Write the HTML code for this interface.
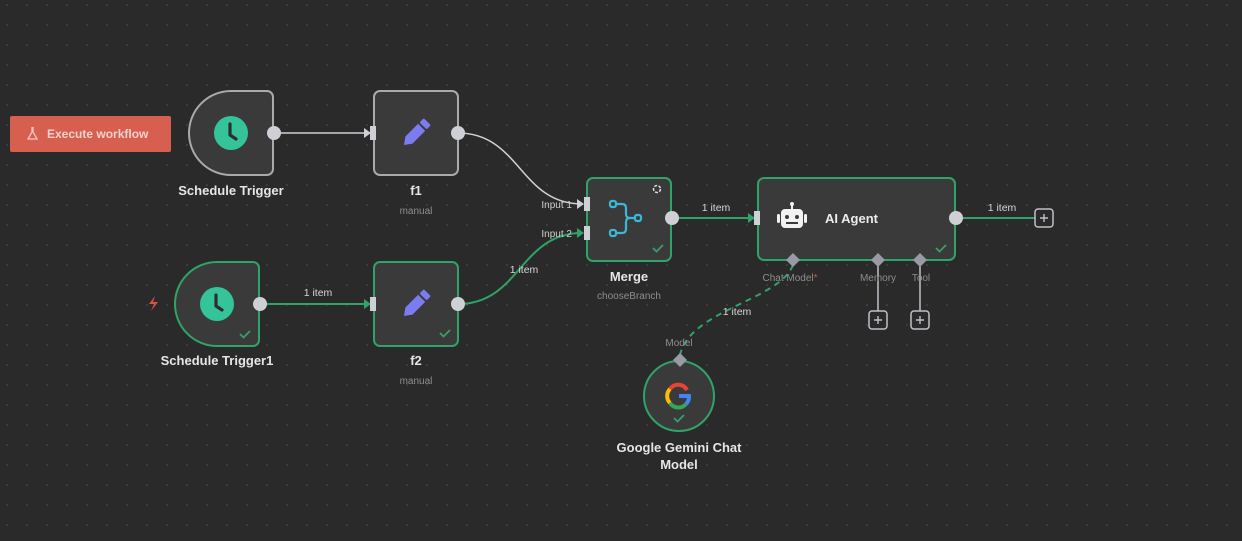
<!DOCTYPE html>
<html><head><meta charset="utf-8"><style>
html,body{margin:0;padding:0;background:#2a2a2a;}
svg{display:block;font-family:"Liberation Sans",sans-serif;}
</style></head><body>
<svg width="1242" height="541" viewBox="0 0 1242 541" xmlns="http://www.w3.org/2000/svg">
<defs>
<pattern id="dots" width="20" height="20" patternUnits="userSpaceOnUse" x="6" y="4">
<circle cx="1" cy="1" r="0.9" fill="#4a4a4a"/>
</pattern>
<g id="check"><path d="M-5 0 L-1.5 3.5 L5 -3" fill="none" stroke="#35a06a" stroke-width="1.8"/></g>
<g id="pencil"><g transform="rotate(45)"><rect x="-5" y="-16" width="10" height="6" rx="1.5" fill="#7b7cf0"/><path d="M-5 -8 H5 V10 L0 17 L-5 10 Z" fill="#7b7cf0"/></g></g>
<g id="clock"><circle r="17" fill="#35c49a"/><path d="M-1 -9 V2 L5 6" fill="none" stroke="#2e2e2e" stroke-width="3.2" stroke-linecap="round" stroke-linejoin="round"/></g>
<g id="plus"><rect x="-9" y="-9" width="18" height="18" rx="3" fill="#2a2a2a" stroke="#bfbfc8" stroke-width="1.5"/><path d="M-4 0 H4 M0 -4 V4" stroke="#bfbfc8" stroke-width="1.4"/></g>
</defs>
<rect width="1242" height="541" fill="#2a2a2a"/>
<rect width="1242" height="541" fill="url(#dots)"/>

<!-- Execute button -->
<rect x="10" y="116" width="161" height="36" rx="2" fill="#d65f4f"/>
<path d="M32 127 v5 l-4 7 h9 l-4 -7 v-5" fill="none" stroke="#f1c6bf" stroke-width="1.3"/>
<text x="47" y="138" font-size="12" font-weight="bold" fill="#f3d2cc">Execute workflow</text>

<!-- edges -->
<line x1="274" y1="133" x2="368" y2="133" stroke="#cfcfd6" stroke-width="1.5"/>
<path d="M364 128 L371 133 L364 138 Z" fill="#cfcfd6"/>
<path d="M458 133 C520 133 520 204 582 204" fill="none" stroke="#cfcfd6" stroke-width="1.5"/>
<path d="M577 199 L584 204 L577 209 Z" fill="#cfcfd6"/>
<line x1="260" y1="304" x2="368" y2="304" stroke="#2fa36a" stroke-width="2"/>
<path d="M364 299 L371 304 L364 309 Z" fill="#2fa36a"/>
<text x="318" y="296" font-size="10.5" fill="#d6d6d6" text-anchor="middle">1 item</text>
<path d="M458 304 C520 304 520 233 582 233" fill="none" stroke="#2fa36a" stroke-width="2"/>
<path d="M577 228 L584 233 L577 238 Z" fill="#2fa36a"/>
<text x="524" y="273" font-size="10.5" fill="#d6d6d6" text-anchor="middle">1 item</text>
<line x1="672" y1="218" x2="752" y2="218" stroke="#2fa36a" stroke-width="2"/>
<path d="M748 213 L755 218 L748 223 Z" fill="#2fa36a"/>
<text x="716" y="211" font-size="10.5" fill="#d6d6d6" text-anchor="middle">1 item</text>
<line x1="956" y1="218" x2="1035" y2="218" stroke="#2fa36a" stroke-width="2"/>
<text x="1002" y="211" font-size="10.5" fill="#d6d6d6" text-anchor="middle">1 item</text>
<use href="#plus" x="1044" y="218"/>
<path d="M793 265 C780 300 690 310 680 355" fill="none" stroke="#2fa36a" stroke-width="2" stroke-dasharray="6 5"/>
<text x="737" y="315" font-size="10.5" fill="#d6d6d6" text-anchor="middle">1 item</text>
<line x1="878" y1="262" x2="878" y2="311" stroke="#bfbfc8" stroke-width="1.5"/>
<line x1="920" y1="262" x2="920" y2="311" stroke="#bfbfc8" stroke-width="1.5"/>
<use href="#plus" x="878" y="320"/>
<use href="#plus" x="920" y="320"/>

<!-- Schedule Trigger -->
<path d="M231 91 H267 a6 6 0 0 1 6 6 V169 a6 6 0 0 1 -6 6 H231 a42 42 0 0 1 -42 -42 a42 42 0 0 1 42 -42 Z" fill="#3a3a3a" stroke="#a9a9ae" stroke-width="2"/>
<use href="#clock" x="231" y="133"/>
<circle cx="274" cy="133" r="7" fill="#cfcfd6"/>
<text x="231" y="195" font-size="13" font-weight="bold" fill="#e6e6e6" text-anchor="middle">Schedule Trigger</text>

<!-- f1 -->
<rect x="374" y="91" width="84" height="84" rx="6" fill="#3a3a3a" stroke="#a9a9ae" stroke-width="2"/>
<use href="#pencil" x="416" y="133"/>
<rect x="370" y="126" width="6" height="14" fill="#cfcfd6"/>
<circle cx="458" cy="133" r="7" fill="#cfcfd6"/>
<text x="416" y="195" font-size="13" font-weight="bold" fill="#e6e6e6" text-anchor="middle">f1</text>
<text x="416" y="214" font-size="10" fill="#8e8e8e" text-anchor="middle">manual</text>

<!-- Schedule Trigger1 -->
<path d="M217 262 H253 a6 6 0 0 1 6 6 V340 a6 6 0 0 1 -6 6 H217 a42 42 0 0 1 -42 -42 a42 42 0 0 1 42 -42 Z" fill="#3a3a3a" stroke="#2fa36a" stroke-width="2"/>
<use href="#clock" x="217" y="304"/>
<use href="#check" x="245" y="334"/>
<circle cx="260" cy="304" r="7" fill="#cfcfd6"/>
<text x="217" y="365" font-size="13" font-weight="bold" fill="#e6e6e6" text-anchor="middle">Schedule Trigger1</text>
<path d="M155 296 L149 304 L154 304 L151 311 L158 302 L153 302 Z" fill="#e0503f"/>

<!-- f2 -->
<rect x="374" y="262" width="84" height="84" rx="6" fill="#3a3a3a" stroke="#2fa36a" stroke-width="2"/>
<use href="#pencil" x="416" y="304"/>
<use href="#check" x="445" y="333"/>
<rect x="370" y="297" width="6" height="14" fill="#cfcfd6"/>
<circle cx="458" cy="304" r="7" fill="#cfcfd6"/>
<text x="416" y="365" font-size="13" font-weight="bold" fill="#e6e6e6" text-anchor="middle">f2</text>
<text x="416" y="384" font-size="10" fill="#8e8e8e" text-anchor="middle">manual</text>

<!-- Merge -->
<rect x="587" y="178" width="84" height="83" rx="6" fill="#3a3a3a" stroke="#2fa36a" stroke-width="2"/>
<g fill="none" stroke="#3bb8d8" stroke-width="2.2">
<rect x="610" y="201" width="6" height="6" rx="2"/><rect x="610" y="230" width="6" height="6" rx="2"/><rect x="635" y="215" width="6" height="6" rx="2"/>
<path d="M616 204 H622 Q626 204 626 208 V214 Q626 218 630 218 H635 M616 233 H622 Q626 233 626 229 V222 Q626 218 630 218"/>
</g>
<circle cx="657" cy="189" r="3.5" fill="none" stroke="#ddd" stroke-width="1.5" stroke-dasharray="3 1.5"/>
<use href="#check" x="658" y="248"/>
<rect x="584" y="197" width="6" height="14" fill="#cfcfd6"/>
<rect x="584" y="226" width="6" height="14" fill="#cfcfd6"/>
<text x="572" y="208" font-size="10" fill="#cfcfcf" text-anchor="end">Input 1</text>
<text x="572" y="237" font-size="10" fill="#cfcfcf" text-anchor="end">Input 2</text>
<circle cx="672" cy="218" r="7" fill="#cfcfd6"/>
<text x="629" y="281" font-size="13" font-weight="bold" fill="#e6e6e6" text-anchor="middle">Merge</text>
<text x="629" y="299" font-size="10" fill="#8e8e8e" text-anchor="middle">chooseBranch</text>

<!-- AI Agent -->
<rect x="758" y="178" width="197" height="82" rx="6" fill="#3a3a3a" stroke="#2fa36a" stroke-width="2"/>
<rect x="754" y="211" width="6" height="14" fill="#cfcfd6"/>
<circle cx="956" cy="218" r="7" fill="#cfcfd6"/>
<g fill="#f2f2f2">
<rect x="781" y="209" width="22" height="19" rx="4"/>
<rect x="777" y="214" width="3" height="9" rx="1.5"/><rect x="804" y="214" width="3" height="9" rx="1.5"/>
<rect x="791" y="204" width="2" height="5"/><circle cx="792" cy="204" r="2"/>
</g>
<circle cx="787" cy="217" r="2" fill="#3a3a3a"/><circle cx="797" cy="217" r="2" fill="#3a3a3a"/>
<rect x="786" y="222" width="12" height="2" fill="#3a3a3a"/>
<text x="825" y="223" font-size="13" font-weight="bold" fill="#ececec">AI Agent</text>
<use href="#check" x="941" y="248"/>
<g fill="#9a9aa6">
<path d="M793 253 L800 260 L793 267 L786 260 Z"/>
<path d="M878 253 L885 260 L878 267 L871 260 Z"/>
<path d="M920 253 L927 260 L920 267 L913 260 Z"/>
</g>
<text x="790" y="281" font-size="10" fill="#8e8e8e" text-anchor="middle">Chat Model<tspan fill="#e0503f">*</tspan></text>
<text x="878" y="281" font-size="10" fill="#8e8e8e" text-anchor="middle">Memory</text>
<text x="921" y="281" font-size="10" fill="#8e8e8e" text-anchor="middle">Tool</text>

<!-- Gemini -->
<circle cx="679" cy="396" r="35" fill="#3a3a3a" stroke="#2fa36a" stroke-width="2"/>
<path d="M680 353 L687 360 L680 367 L673 360 Z" fill="#9a9aa6"/>
<text x="679" y="346" font-size="10" fill="#8e8e8e" text-anchor="middle">Model</text>
<g fill="none" stroke-width="4">
<path d="M687 390 A10 10 0 0 0 670 389" stroke="#ea4335"/>
<path d="M670 389 A10 10 0 0 0 670 403" stroke="#fbbc05"/>
<path d="M670 403 A10 10 0 0 0 686 404" stroke="#34a853"/>
<path d="M686 404 A10 10 0 0 0 689 396 H679" stroke="#4285f4"/>
</g>
<use href="#check" x="679" y="418"/>
<text x="679" y="452" font-size="13" font-weight="bold" fill="#e6e6e6" text-anchor="middle">Google Gemini Chat</text>
<text x="679" y="469" font-size="13" font-weight="bold" fill="#e6e6e6" text-anchor="middle">Model</text>
</svg>
</body></html>
